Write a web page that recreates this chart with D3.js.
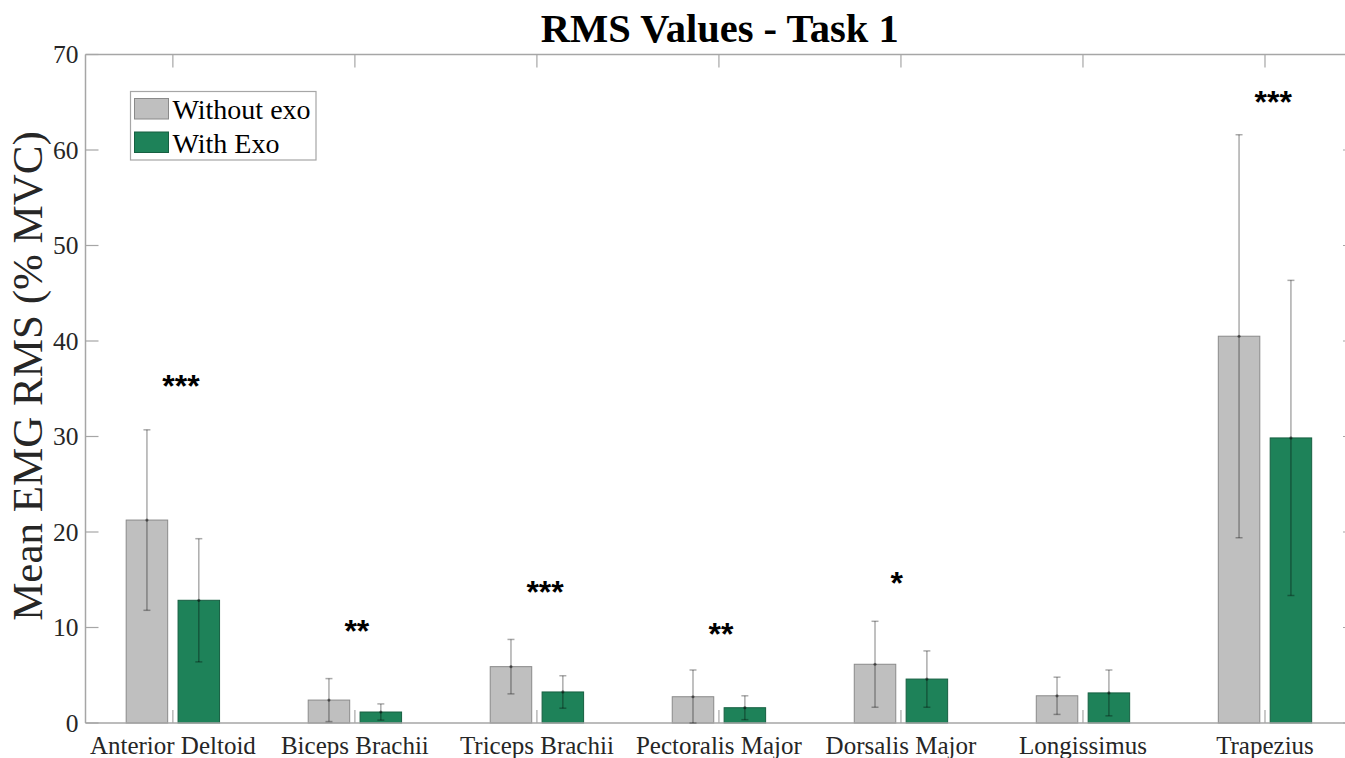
<!DOCTYPE html>
<html>
<head>
<meta charset="utf-8">
<script src="https://cdn.jsdelivr.net/npm/d3@7"></script>
<style>
  html, body { margin: 0; padding: 0; background: #fff; }
  svg { display: block; }
</style>
</head>
<body>
<svg id="chart" width="1345" height="758"></svg>
<script>
const categories = ["Anterior Deltoid", "Biceps Brachii", "Triceps Brachii", "Pectoralis Major", "Dorsalis Major", "Longissimus", "Trapezius"];
const seriesNames = ["Without exo", "With Exo"];
const withoutMean = [21.25, 2.4, 5.9, 2.75, 6.15, 2.85, 40.5];
const withoutSD   = [9.45, 2.25, 2.85, 2.8, 4.5, 1.95, 21.1];
const withMean    = [12.85, 1.15, 3.25, 1.6, 4.6, 3.15, 29.85];
const withSD      = [6.45, 0.85, 1.7, 1.25, 2.95, 2.4, 16.5];
const stars       = ["***", "**", "***", "**", "*", "", "***"];
const starY       = [35.6, 10.0, 14.1, 9.7, 15.0, null, 65.4];
const yTicks      = [0, 10, 20, 30, 40, 50, 60, 70];

const colors = ["#bfbfbf", "#1e8259"];
const strokes = ["#8a8a8a", "#165f41"];

const svg = d3.select("#chart");
const pLeft = 85.5, pRight = 1356, pTop = 54.5, pBottom = 723;

const x = d3.scaleLinear().domain([0.52, 7.5]).range([pLeft, pRight]);
const y = d3.scaleLinear().domain([0, 70]).range([pBottom, pTop]);

const barW = 0.228, off = 0.1425;
const serif = "'Liberation Serif', 'Times New Roman', serif";
const axisCol = "#a6a6a6";
const textCol = "#262626";

const g = svg.append("g");

const series = [
  {mean: withoutMean, sd: withoutSD, dx: -off},
  {mean: withMean, sd: withSD, dx: off}
];
series.forEach((s, si) => {
  const grp = g.append("g");
  grp.selectAll("rect").data(categories).join("rect")
    .attr("x", (d, i) => x(i + 1 + s.dx - barW / 2))
    .attr("width", (d, i) => x(i + 1 + s.dx + barW / 2) - x(i + 1 + s.dx - barW / 2))
    .attr("y", (d, i) => y(s.mean[i]))
    .attr("height", (d, i) => y(0) - y(s.mean[i]))
    .attr("fill", colors[si])
    .attr("stroke", strokes[si])
    .attr("stroke-width", 1);
});

// axes frame
[[pLeft, pBottom, pRight, pBottom], [pLeft, pTop, pRight, pTop], [pLeft, pTop, pLeft, pBottom], [pRight, pTop, pRight, pBottom]]
  .forEach(l => g.append("line").attr("x1", l[0]).attr("y1", l[1]).attr("x2", l[2]).attr("y2", l[3]).attr("stroke", axisCol).attr("stroke-width", 1.5));

const tickLen = 13;
yTicks.forEach(t => {
  g.append("line").attr("x1", pLeft).attr("x2", pLeft + tickLen).attr("y1", y(t)).attr("y2", y(t)).attr("stroke", axisCol).attr("stroke-width", 1.2);
  g.append("line").attr("x1", pRight - tickLen).attr("x2", pRight).attr("y1", y(t)).attr("y2", y(t)).attr("stroke", axisCol).attr("stroke-width", 1.2);
  g.append("text").attr("x", pLeft - 7).attr("y", y(t)).attr("dy", "0.34em")
    .attr("text-anchor", "end").attr("font-family", serif).attr("font-size", 25.5).attr("fill", textCol).text(t);
});
categories.forEach((c, i) => {
  g.append("line").attr("x1", x(i + 1)).attr("x2", x(i + 1)).attr("y1", pBottom).attr("y2", pBottom - tickLen).attr("stroke", axisCol).attr("stroke-width", 1.2);
  g.append("line").attr("x1", x(i + 1)).attr("x2", x(i + 1)).attr("y1", pTop).attr("y2", pTop + tickLen).attr("stroke", axisCol).attr("stroke-width", 1.2);
  g.append("text").attr("x", x(i + 1)).attr("y", pBottom + 31)
    .attr("text-anchor", "middle").attr("font-family", serif).attr("font-size", 25).attr("fill", textCol).text(c);
});

// error bars
series.forEach((s, si) => {
  categories.forEach((c, i) => {
    const cx = x(i + 1 + s.dx);
    const lo = Math.max(0, s.mean[i] - s.sd[i]);
    const hi = s.mean[i] + s.sd[i];
    const eb = g.append("g").attr("stroke", "rgba(0,0,0,0.33)").attr("stroke-width", 1.5);
    eb.append("line").attr("x1", cx).attr("x2", cx).attr("y1", y(lo)).attr("y2", y(hi));
    eb.append("line").attr("x1", cx - 3.5).attr("x2", cx + 3.5).attr("y1", y(lo)).attr("y2", y(lo));
    eb.append("line").attr("x1", cx - 3.5).attr("x2", cx + 3.5).attr("y1", y(hi)).attr("y2", y(hi));
    g.append("circle").attr("cx", cx).attr("cy", y(s.mean[i])).attr("r", 1.6).attr("fill", "rgba(0,0,0,0.45)");
  });
});

// significance stars
categories.forEach((c, i) => {
  if (!stars[i]) return;
  g.append("text").attr("x", x(i + 1) - 10.5).attr("y", y(starY[i])).attr("dy", "0.45em")
    .attr("text-anchor", "start").attr("font-family", "'Liberation Sans', Arial, sans-serif")
    .attr("font-weight", "bold").attr("font-size", 32).attr("fill", "#000").text(stars[i]);
});

// title
svg.append("text").attr("x", (pLeft + pRight) / 2 - 1).attr("y", 42)
  .attr("text-anchor", "middle").attr("font-family", serif).attr("font-weight", "bold")
  .attr("font-size", 40.5).attr("fill", "#000").text("RMS Values - Task 1");

// y label
svg.append("text").attr("transform", `translate(42, 376) rotate(-90)`)
  .attr("text-anchor", "middle").attr("font-family", serif).attr("font-size", 43).attr("fill", textCol)
  .text("Mean EMG RMS (% MVC)");

// legend
const lg = svg.append("g");
lg.append("rect").attr("x", 130.5).attr("y", 91.5).attr("width", 185.5).attr("height", 68.5)
  .attr("fill", "#fff").attr("stroke", axisCol).attr("stroke-width", 1.2);
seriesNames.forEach((n, si) => {
  lg.append("rect").attr("x", 134.5).attr("y", 98.5 + si * 33.5).attr("width", 34).attr("height", 20.5)
    .attr("fill", colors[si]).attr("stroke", strokes[si]).attr("stroke-width", 1);
  lg.append("text").attr("x", 172.5).attr("y", 119 + si * 33.5).attr("font-family", serif).attr("font-size", 28)
    .attr("fill", "#000").text(n);
});
</script>
</body>
</html>
